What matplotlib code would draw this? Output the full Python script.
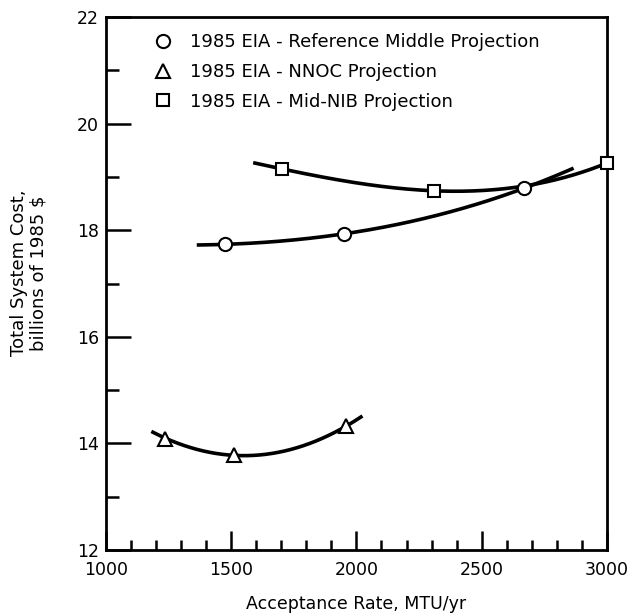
import matplotlib
matplotlib.use("Agg")
import matplotlib.pyplot as plt
from matplotlib.ticker import MultipleLocator
import numpy as np

plt.rcParams['font.family'] = ['DejaVu Sans']

# ==========================
# DATOS
# ==========================

# 1985 EIA - Reference Middle Projection (circulos)
ref_x = [1475, 1950, 2669]
ref_y = [17.74, 17.93, 18.79]
ref_curva_x = [1370, 1475, 1950, 2669, 2860]
ref_curva_y = [17.72, 17.74, 17.93, 18.79, 19.15]

# 1985 EIA - NNOC Projection (triangulos)
nnoc_x = [1236, 1511, 1958]
nnoc_y = [14.08, 13.78, 14.33]
nnoc_curva_x = [1188, 1236, 1511, 1958, 2018]
nnoc_curva_y = [14.23, 14.08, 13.78, 14.33, 14.49]

# 1985 EIA - Mid-NIB Projection (cuadrados)
nib_x = [1703, 2309, 3000]
nib_y = [19.15, 18.74, 19.26]
nib_curva_x = [1595, 1703, 2309, 3000]
nib_curva_y = [19.26, 19.15, 18.74, 19.26]

etiquetas = [
    "1985 EIA - Reference Middle Projection",
    "1985 EIA - NNOC Projection",
    "1985 EIA - Mid-NIB Projection",
]

# ==========================
# FIGURA
# ==========================

fig = plt.figure(figsize=(6.3, 6.16), dpi=100)
ax = fig.add_axes([0.168, 0.107, 0.7955, 0.8654])


def curva(xs, ys, grado):
    # curva suave ajustada a los puntos trazados
    p = np.polyfit(xs, ys, grado)
    xx = np.linspace(min(xs), max(xs), 200)
    ax.plot(xx, np.polyval(p, xx), color="black", lw=2.6, zorder=2)


curva(ref_curva_x, ref_curva_y, 3)
curva(nnoc_curva_x, nnoc_curva_y, 2)
curva(nib_curva_x, nib_curva_y, 3)

estilo = dict(linestyle="none", mfc="white", mec="black", mew=1.5,
              color="black", zorder=3, clip_on=False)
h1, = ax.plot(ref_x, ref_y, marker="o", ms=9.5, label=etiquetas[0], **estilo)
h2, = ax.plot(nnoc_x, nnoc_y, marker="^", ms=9.5, label=etiquetas[1], **estilo)
h3, = ax.plot(nib_x, nib_y, marker="s", ms=8.5, label=etiquetas[2], **estilo)

ax.legend(handles=[h1, h2, h3], loc="upper left",
          bbox_to_anchor=(0.074, 0.99), frameon=False, fontsize=13,
          handlelength=1.0, handletextpad=1.0, labelspacing=0.65,
          borderaxespad=0.2)

# ==========================
# EJES
# ==========================

ax.set_xlim(1000, 3000)
ax.set_ylim(12, 22)
ax.xaxis.set_major_locator(MultipleLocator(500))
ax.xaxis.set_minor_locator(MultipleLocator(100))
ax.yaxis.set_major_locator(MultipleLocator(2))
ax.yaxis.set_minor_locator(MultipleLocator(1))

ax.tick_params(which="both", direction="in", labelsize=12.5, width=1.8,
               top=False, right=False)
ax.tick_params(axis="y", which="major", length=18, pad=5)
ax.tick_params(axis="y", which="minor", length=9.5)
ax.tick_params(axis="x", which="major", length=14, pad=8)
ax.tick_params(axis="x", which="minor", length=7)

for s in ax.spines.values():
    s.set_linewidth(2.0)

ax.set_xlabel("Acceptance Rate, MTU/yr", fontsize=12.5)
ax.xaxis.set_label_coords(0.5, -0.085)
ax.set_ylabel("Total System Cost,\nbillions of 1985 $", fontsize=13,
              linespacing=1.1)
ax.yaxis.set_label_coords(-0.116, 0.52)

fig.savefig("out.png", dpi=100)
